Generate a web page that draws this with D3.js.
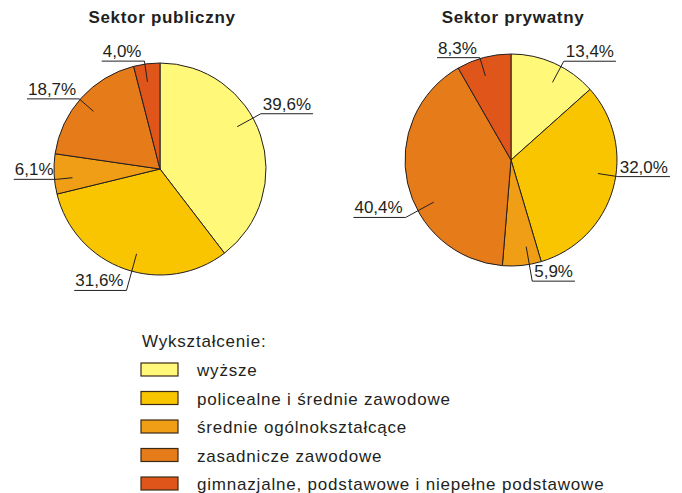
<!DOCTYPE html>
<html>
<head>
<meta charset="utf-8">
<script src="https://d3js.org/d3.v7.min.js"></script>
<style>
  body { margin: 0; background: #fff; }
  text { font-family: "Liberation Sans", Arial, sans-serif; fill: #231f20; }
</style>
</head>
<body>
<div id="chart"></div>
<script>
// data
const categories = [
  "wyższe",
  "policealne i średnie zawodowe",
  "średnie ogólnokształcące",
  "zasadnicze zawodowe",
  "gimnazjalne, podstawowe i niepełne podstawowe"
];
const publicValues = [39.6, 31.6, 6.1, 18.7, 4.0];
const privateValues = [13.4, 32.0, 5.9, 40.4, 8.3];
const sectorTitles = ["Sektor publiczny", "Sektor prywatny"];
const legendTitle = "Wykształcenie:";
const colors = ["#fff878", "#f8c500", "#f09e16", "#e67b1a", "#e0561a"];

// label leader tweaks (degrees off the slice middle, elbow distance from centre)
const publicLeader = { turn: [-10, -4, -3, -1, -1], reach: [115, 126, 104, 107, 109] };
const privateLeader = { turn: [4, -7, -4, -16, -2], reach: [112, 108, 123, 120, 107] };

const width = 682, height = 493;
const radius = 106;

const svg = d3.select("#chart")
  .append("svg")
  .attr("width", width)
  .attr("height", height);

const color = d3.scaleOrdinal().domain(categories).range(colors);
const fmt = v => d3.format(".1f")(v).replace(".", ",") + "%";

const pie = d3.pie().sort(null).value(d => d.value);
const arc = d3.arc().innerRadius(0).outerRadius(radius);

function drawPie(values, title, leader, cx, cy) {
  const g = svg.append("g").attr("transform", `translate(${cx},${cy})`);
  const data = categories.map((c, i) => ({ category: c, value: values[i] }));

  g.append("text")
    .attr("x", 2)
    .attr("y", 23 - cy)
    .attr("text-anchor", "middle")
    .style("font-size", "17px")
    .style("font-weight", "bold")
    .style("letter-spacing", "0.7px")
    .text(title);

  const arcs = pie(data);

  g.selectAll("path.slice")
    .data(arcs)
    .enter().append("path")
    .attr("class", "slice")
    .attr("d", arc)
    .attr("fill", d => color(d.data.category))
    .attr("stroke", "#231f20")
    .attr("stroke-width", 1);

  // labels with leader lines
  arcs.forEach((d, i) => {
    const a = (d.startAngle + d.endAngle) / 2 + leader.turn[i] * Math.PI / 180;
    const sx = Math.sin(a), sy = -Math.cos(a);
    const r0 = radius * 0.83;
    const r1 = leader.reach[i];
    const p0 = [sx * r0, sy * r0];
    const p1 = [sx * r1, sy * r1];
    const right = a < Math.PI;

    const t = g.append("text")
      .attr("y", p1[1] - 4)
      .attr("x", right ? p1[0] + 2 : p1[0] - 3)
      .attr("text-anchor", right ? "start" : "end")
      .style("font-size", "17px")
      .text(fmt(d.data.value));
    const w = t.node().getComputedTextLength();
    const x2 = right ? p1[0] + w + 4 : p1[0] - w - 4;

    g.append("polyline")
      .attr("fill", "none")
      .attr("stroke", "#231f20")
      .attr("stroke-width", 1)
      .attr("points", [p0, p1, [x2, p1[1]]].map(p => p.join(",")).join(" "));
  });
}

drawPie(publicValues, sectorTitles[0], publicLeader, 160, 169);
drawPie(privateValues, sectorTitles[1], privateLeader, 511, 160);

// legend
const legend = svg.append("g").attr("transform", "translate(141,347)");
legend.append("text")
  .attr("x", 1)
  .attr("y", 0)
  .style("font-size", "17px")
  .style("letter-spacing", "0.8px")
  .text(legendTitle);

const item = legend.selectAll("g.item")
  .data(categories)
  .enter().append("g")
  .attr("class", "item")
  .attr("transform", (d, i) => `translate(0,${16 + i * 28.5})`);

item.append("rect")
  .attr("x", 0)
  .attr("y", 0)
  .attr("width", 37)
  .attr("height", 13)
  .attr("fill", d => color(d))
  .attr("stroke", "#3b2a14")
  .attr("stroke-width", 1.2);

item.append("text")
  .attr("x", 56)
  .attr("y", 13)
  .style("font-size", "17px")
  .style("letter-spacing", "0.8px")
  .text(d => d);
</script>
</body>
</html>
